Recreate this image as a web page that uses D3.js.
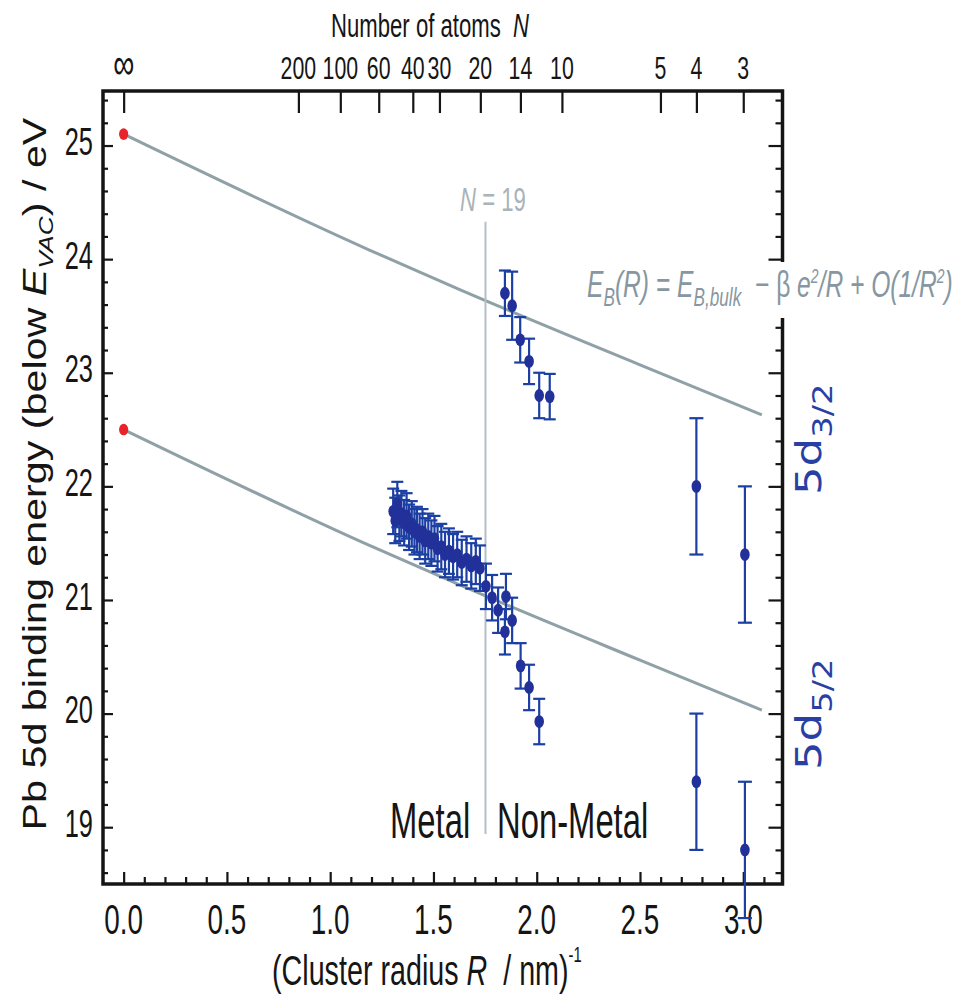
<!DOCTYPE html>
<html><head><meta charset="utf-8">
<script src="https://cdn.jsdelivr.net/npm/d3@7"></script>
<style>html,body{margin:0;padding:0;background:#fff;}svg{display:block;}</style>
</head><body>
<svg id="chart" width="957" height="995"></svg>
<script>
// ---------- data ----------
const xMajorTicks = [0.0, 0.5, 1.0, 1.5, 2.0, 2.5, 3.0];
const yMajorTicks = [19, 20, 21, 22, 23, 24, 25];
const topTickLabels = ["\u221E","200","100","60","40","30","20","14","10","5","4","3"];
const topTickX = [0, 0.846, 1.049, 1.235, 1.400, 1.529, 1.727, 1.921, 2.122, 2.599, 2.773, 3.0];

// bulk values (red)
const bulkX = [0, 0];
const bulkY = [25.1, 22.5];

// 5d3/2 series
const d32X = [1.846, 1.881, 1.920, 1.963, 2.012, 2.063, 2.773, 3.008];
const d32Y = [23.70, 23.59, 23.29, 23.10, 22.80, 22.79, 22.00, 21.40];
const d32Err = [0.2, 0.3, 0.2, 0.2, 0.2, 0.2, 0.6, 0.6];

// 5d5/2 series
const d52X = [1.305,1.315,1.325,1.335,1.345,1.358,1.370,1.382,1.395,1.408,1.420,1.433,1.447,1.460,1.475,1.490,1.505,1.520,1.538,1.556,1.575,1.595,1.615,1.637,1.660,1.683,1.705,1.725,
              1.754,1.784,1.813,1.846,1.851,1.881,1.922,1.963,2.012,2.773,3.008];
const d52Y = [21.78,21.70,21.84,21.72,21.76,21.68,21.74,21.64,21.67,21.60,21.62,21.56,21.60,21.52,21.56,21.50,21.54,21.45,21.47,21.40,21.43,21.38,21.40,21.33,21.36,21.30,21.34,21.28,
              21.12,21.02,20.91,20.72,21.03,20.82,20.42,20.23,19.93,19.40,18.80];
const d52Err = [0.2,0.2,0.2,0.2,0.2,0.2,0.2,0.2,0.2,0.2,0.2,0.2,0.2,0.2,0.2,0.2,0.2,0.2,0.2,0.2,0.2,0.2,0.2,0.2,0.2,0.2,0.2,0.2,
                0.2,0.2,0.2,0.2,0.2,0.2,0.2,0.2,0.2,0.6,0.6];

// fit curves E_B(R)
const fitX = [0, 1.19, 1.63, 2.5, 3.09];
const fitUpperY = [25.1, 24.08, 23.73, 23.07, 22.63];
const fitLowerY = [22.5, 21.48, 21.13, 20.47, 20.03];

// N = 19 boundary
const boundaryX = 1.752;
const boundaryY = [24.33, 18.94];

// ---------- layout ----------
const svg = d3.select("#chart");
const L = 103, R = 782.5, T = 91, B = 884;
const x = d3.scaleLinear().domain([-0.1, 3.19]).range([L, R]);
const y = d3.scaleLinear().domain([18.5, 25.48]).range([B, T]);
const K = 1.23;   // vertical stretch of text
const SX = 0.82;  // horizontal condensing (narrow face)
const NARROW = "'Liberation Sans',Arial,sans-serif";
const SANS = "'Liberation Sans',Arial,sans-serif";
const INK = "#151515";
const NB = "\u00A0";

function stext(xp, yp, size, anchor, fam, parent) {
  return (parent || svg).append("g").attr("transform", `translate(${xp},${yp}) scale(${SX},${K})`)
    .append("text").attr("font-family", fam || NARROW).attr("font-size", size)
    .attr("text-anchor", anchor || "start").attr("fill", INK);
}

// ---------- fit lines & boundary ----------
const line = d3.line().x(d => x(d[0])).y(d => y(d[1])).curve(d3.curveMonotoneX);
svg.append("path").attr("d", line(fitX.map((v, i) => [v, fitUpperY[i]])))
  .attr("fill", "none").attr("stroke", "#8fa1a6").attr("stroke-width", 3);
svg.append("path").attr("d", line(fitX.map((v, i) => [v, fitLowerY[i]])))
  .attr("fill", "none").attr("stroke", "#8fa1a6").attr("stroke-width", 3);
svg.append("line").attr("x1", x(boundaryX)).attr("x2", x(boundaryX))
  .attr("y1", y(boundaryY[0])).attr("y2", y(boundaryY[1]))
  .attr("stroke", "#b4bfc5").attr("stroke-width", 2);

// ---------- axes (ticks inward) ----------
const minorX = d3.range(0, 32).map(i => +(i * 0.1).toFixed(1)).filter(v => Math.abs(v * 2 - Math.round(v * 2)) > 1e-6);
const minorY = d3.range(0, 35).map(i => +(18.6 + i * 0.2).toFixed(1)).filter(v => Math.abs(v - Math.round(v)) > 1e-6 && v < 25.48);

function axisG(gen, tx, ty) {
  const g = svg.append("g").attr("transform", `translate(${tx},${ty})`).call(gen);
  g.select(".domain").remove();
  g.selectAll("line").attr("stroke", INK).attr("stroke-width", 2.2);
  g.selectAll("text").remove();
  return g;
}
// bottom
axisG(d3.axisTop(x).tickValues(xMajorTicks).tickSize(12).tickFormat(""), 0, B);
axisG(d3.axisTop(x).tickValues(minorX).tickSize(7).tickFormat(""), 0, B);
// left
axisG(d3.axisRight(y).tickValues(yMajorTicks).tickSize(10).tickFormat(""), L, 0);
axisG(d3.axisRight(y).tickValues(minorY).tickSize(5).tickFormat(""), L, 0);
// right
axisG(d3.axisLeft(y).tickValues(yMajorTicks).tickSize(14).tickFormat(""), R, 0);
axisG(d3.axisLeft(y).tickValues(minorY).tickSize(7).tickFormat(""), R, 0);
// top
axisG(d3.axisBottom(x).tickValues(topTickX).tickSize(22).tickFormat(""), 0, T);

// frame
svg.append("rect").attr("x", L).attr("y", T).attr("width", R - L).attr("height", B - T)
  .attr("fill", "none").attr("stroke", INK).attr("stroke-width", 3.5);

// tick labels
xMajorTicks.forEach(v => stext(x(v), 934, 34, "middle").text(d3.format(".1f")(v)));
yMajorTicks.forEach(v => stext(93, y(v) + 9.6, 31, "end").text(v));
topTickLabels.forEach((t, i) => stext(x(topTickX[i]), 78.5, t === "\u221E" ? 36 : 26, "middle").text(t));

// axis titles
{
  const t = stext(331, 37, 27, "start");
  t.append("tspan").text("Number of atoms" + NB + NB);
  t.append("tspan").attr("font-style", "italic").text("N");
}
{
  const t = stext(272, 985, 35, "start");
  t.append("tspan").text("(Cluster radius" + NB);
  t.append("tspan").attr("font-style", "italic").text("R");
  t.append("tspan").text(NB + NB + "/" + NB + "nm)");
  t.append("tspan").attr("font-size", 18).attr("dy", -19).text("-1");
}
{
  const t = svg.append("g").attr("transform", "translate(46,474) scale(1,1.25) rotate(-90)")
    .append("text").attr("font-family", SANS).attr("font-size", 33).attr("text-anchor", "middle").attr("fill", INK);
  t.append("tspan").text("Pb 5d binding energy (below ");
  t.append("tspan").attr("font-style", "italic").text("E");
  t.append("tspan").attr("font-style", "italic").attr("font-size", 21).attr("dy", 7).text("VAC");
  t.append("tspan").attr("dy", -7).text(") / eV");
}

// ---------- error bars & points ----------
function series(xs, ys, es) {
  const data = xs.map((v, i) => ({ x: v, y: ys[i], e: es[i] }));
  const g = svg.append("g");
  const cw = d => d.e > 0.4 ? 7 : 6;
  g.selectAll("line.v").data(data).join("line")
    .attr("x1", d => x(d.x)).attr("x2", d => x(d.x))
    .attr("y1", d => y(d.y + d.e)).attr("y2", d => y(d.y - d.e))
    .attr("stroke", "#1b3fa3").attr("stroke-width", 2.2);
  g.selectAll("line.t").data(data).join("line")
    .attr("x1", d => x(d.x) - cw(d)).attr("x2", d => x(d.x) + cw(d))
    .attr("y1", d => y(d.y + d.e)).attr("y2", d => y(d.y + d.e))
    .attr("stroke", "#1b3fa3").attr("stroke-width", 2.2);
  g.selectAll("line.b").data(data).join("line")
    .attr("x1", d => x(d.x) - cw(d)).attr("x2", d => x(d.x) + cw(d))
    .attr("y1", d => y(d.y - d.e)).attr("y2", d => y(d.y - d.e))
    .attr("stroke", "#1b3fa3").attr("stroke-width", 2.2);
  g.selectAll("ellipse").data(data).join("ellipse")
    .attr("cx", d => x(d.x)).attr("cy", d => y(d.y)).attr("rx", 4.8).attr("ry", 6.4)
    .attr("fill", "#22309a");
}
series(d52X, d52Y, d52Err);
series(d32X, d32Y, d32Err);

svg.append("g").selectAll("ellipse").data(bulkX.map((v, i) => [v, bulkY[i]])).join("ellipse")
  .attr("cx", d => x(d[0])).attr("cy", d => y(d[1])).attr("rx", 4.6).attr("ry", 5.8)
  .attr("fill", "#e8232b");

// ---------- annotations ----------
{
  const t = stext(460, 211, 27, "start").attr("fill", "#a9b3b9");
  t.append("tspan").attr("font-style", "italic").text("N");
  t.append("tspan").text(" = 19");
}
{
  const C = "#8797a2";
  const fg = svg.append("g");
  fg.append("rect").attr("x", 582).attr("y", 262).attr("width", 373).attr("height", 56).attr("fill", "#fff");
  const t = stext(587, 297, 30, "start", null, fg).attr("fill", C).attr("font-style", "italic");
  t.append("tspan").text("E");
  t.append("tspan").attr("font-size", 21).attr("dy", 7).text("B");
  t.append("tspan").attr("dy", -7).text("(R) = E");
  t.append("tspan").attr("font-size", 21).attr("dy", 7).text("B,bulk");
  t.append("tspan").attr("dy", -7).attr("font-style", "normal").text(NB + NB + "\u2212" + NB + "\u03B2" + NB);
  t.append("tspan").text("e");
  t.append("tspan").attr("font-size", 17).attr("dy", -11).text("2");
  t.append("tspan").attr("dy", 11).text("/R + O(1/R");
  t.append("tspan").attr("font-size", 17).attr("dy", -11).text("2");
  t.append("tspan").attr("dy", 11).text(")");
}
stext(390, 838, 40, "start").text("Metal");
stext(497, 838, 40, "start").text("Non-Metal");

function orbital(y0, sub) {
  const t = svg.append("g").attr("transform", `translate(821,${y0}) scale(1,1.25) rotate(-90)`)
    .append("text").attr("font-family", "'DejaVu Sans',sans-serif").attr("font-size", 36)
    .attr("fill", "#2a3fa3").attr("text-anchor", "start");
  t.append("tspan").text("5d");
  t.append("tspan").attr("font-size", 27).attr("dy", 11).text(sub);
}
orbital(495, "3/2");
orbital(770, "5/2");
</script>
</body></html>
